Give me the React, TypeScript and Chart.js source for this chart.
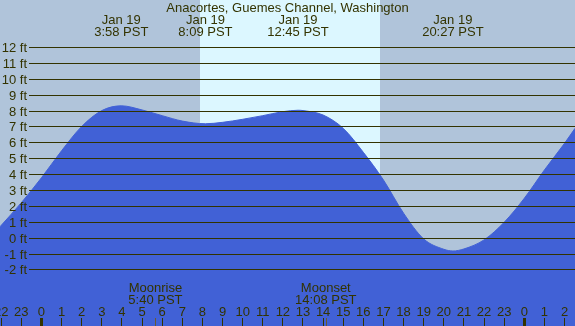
import React, { useEffect, useRef } from "react";
import { Chart, registerables } from "chart.js";

Chart.register(...registerables);

const TITLE = "Anacortes, Guemes Channel, Washington";

// tide curve (hours since midnight Jan 19, feet)
const tideHours = [-2.06, -1, 0, 1, 2, 3, 3.97, 5, 6, 7, 8.15, 9, 10, 11, 12, 12.75, 13, 14, 15, 16, 17, 18, 19, 20, 20.45, 21, 22, 23, 24, 25, 26, 26.52];
const tideFeet = [0.69, 2.2, 3.77, 5.47, 7.0, 8.0, 8.3, 8.04, 7.68, 7.34, 7.17, 7.26, 7.45, 7.68, 7.93, 8.02, 8.0, 7.72, 6.88, 5.37, 3.63, 1.54, -0.08, -0.73, -0.84, -0.71, -0.14, 0.97, 2.48, 4.26, 5.94, 6.88];

// high/low annotations
const extremeHours = [3.967, 8.15, 12.75, 20.45];
const extremeDates = ["Jan 19", "Jan 19", "Jan 19", "Jan 19"];
const extremeTimes = ["3:58 PST", "8:09 PST", "12:45 PST", "20:27 PST"];

// moon events
const moonHours = [5.667, 14.133];
const moonNames = ["Moonrise", "Moonset"];
const moonTimes = ["5:40 PST", "14:08 PST"];

// daylight
const sunriseHour = 7.88;
const sunsetHour = 16.82;

// axes
const yTicks = [-2, -1, 0, 1, 2, 3, 4, 5, 6, 7, 8, 9, 10, 11, 12];
const hourTicks = [-2, -1, 0, 1, 2, 3, 4, 5, 6, 7, 8, 9, 10, 11, 12, 13, 14, 15, 16, 17, 18, 19, 20, 21, 22, 23, 24, 25, 26];
const hourLabels = ["22", "23", "0", "1", "2", "3", "4", "5", "6", "7", "8", "9", "10", "11", "12", "13", "14", "15", "16", "17", "18", "19", "20", "21", "22", "23", "0", "1", "2"];
const X_MIN = -2.06;
const X_MAX = 26.52;
const Y_MIN = -5.56;
const Y_MAX = 14.96;

const NIGHT = "#b0c4da";
const DAY = "#dcf7ff";
const WATER = "#4161d6";
const INK = "#333300";
const FONT = '13px "Liberation Sans", Arial, sans-serif';

const decorPlugin = {
  id: "decor",
  beforeDraw(chart: any) {
    const { ctx, width, height } = chart;
    const x = chart.scales.x;
    ctx.save();
    ctx.fillStyle = NIGHT;
    ctx.fillRect(0, 0, width, height);
    const x1 = Math.round(x.getPixelForValue(sunriseHour));
    const x2 = Math.round(x.getPixelForValue(sunsetHour));
    ctx.fillStyle = DAY;
    ctx.fillRect(x1, 0, x2 - x1, height);
    ctx.restore();
  },
  afterDatasetsDraw(chart: any) {
    const { ctx, width } = chart;
    const x = chart.scales.x;
    const y = chart.scales.y;
    ctx.save();
    ctx.strokeStyle = INK;
    ctx.lineWidth = 1;
    ctx.fillStyle = INK;
    ctx.font = FONT;
    // horizontal grid + labels
    yTicks.forEach((v) => {
      const py = Math.round(y.getPixelForValue(v)) + 0.5;
      ctx.beginPath();
      ctx.moveTo(29, py);
      ctx.lineTo(width, py);
      ctx.stroke();
      ctx.textAlign = "right";
      ctx.textBaseline = "alphabetic";
      ctx.fillText(`${v} ft`, 27, py + 4.5);
    });
    // title
    ctx.textAlign = "center";
    ctx.textBaseline = "alphabetic";
    ctx.fillText(TITLE, width / 2, 12);
    // extremes
    extremeHours.forEach((h, i) => {
      const px = x.getPixelForValue(h);
      ctx.fillText(extremeDates[i], px, 24);
      ctx.fillText(extremeTimes[i], px, 36);
    });
    // moon labels
    moonHours.forEach((h, i) => {
      const px = x.getPixelForValue(h);
      ctx.fillText(moonNames[i], px, 292);
      ctx.fillText(moonTimes[i], px, 304);
      ctx.fillStyle = "#6a5a30";
      ctx.fillRect(Math.round(px), 318, 1, 8);
      ctx.fillStyle = INK;
    });
    // hour labels and ticks
    hourTicks.forEach((h, i) => {
      const px = x.getPixelForValue(h);
      ctx.fillText(hourLabels[i], px, 316);
      const midnight = hourLabels[i] === "0";
      const w = midnight ? 3 : 1;
      ctx.fillRect(Math.round(px - w / 2), 318, w, 8);
    });
    ctx.restore();
  },
};

export default function App() {
  const ref = useRef<HTMLCanvasElement | null>(null);
  useEffect(() => {
    document.body.style.margin = "0";
    if (!ref.current) return;
    const chart = new Chart(ref.current, {
      type: "line",
      data: {
        datasets: [
          {
            data: tideHours.map((h, i) => ({ x: h, y: tideFeet[i] })),
            borderColor: WATER,
            backgroundColor: WATER,
            borderWidth: 1,
            pointRadius: 0,
            fill: "start",
            cubicInterpolationMode: "monotone",
          },
        ],
      },
      options: {
        animation: false,
        responsive: false,
        devicePixelRatio: 1,
        layout: { padding: 0 },
        plugins: { legend: { display: false }, tooltip: { enabled: false }, title: { display: false } },
        scales: {
          x: { type: "linear", min: X_MIN, max: X_MAX, display: false },
          y: { type: "linear", min: Y_MIN, max: Y_MAX, display: false },
        },
      },
      plugins: [decorPlugin],
    });
    return () => chart.destroy();
  }, []);
  return (
    <div style={{ position: "fixed", left: 0, top: 0, width: 575, height: 326 }}>
      <canvas ref={ref} width={575} height={326} />
    </div>
  );
}
